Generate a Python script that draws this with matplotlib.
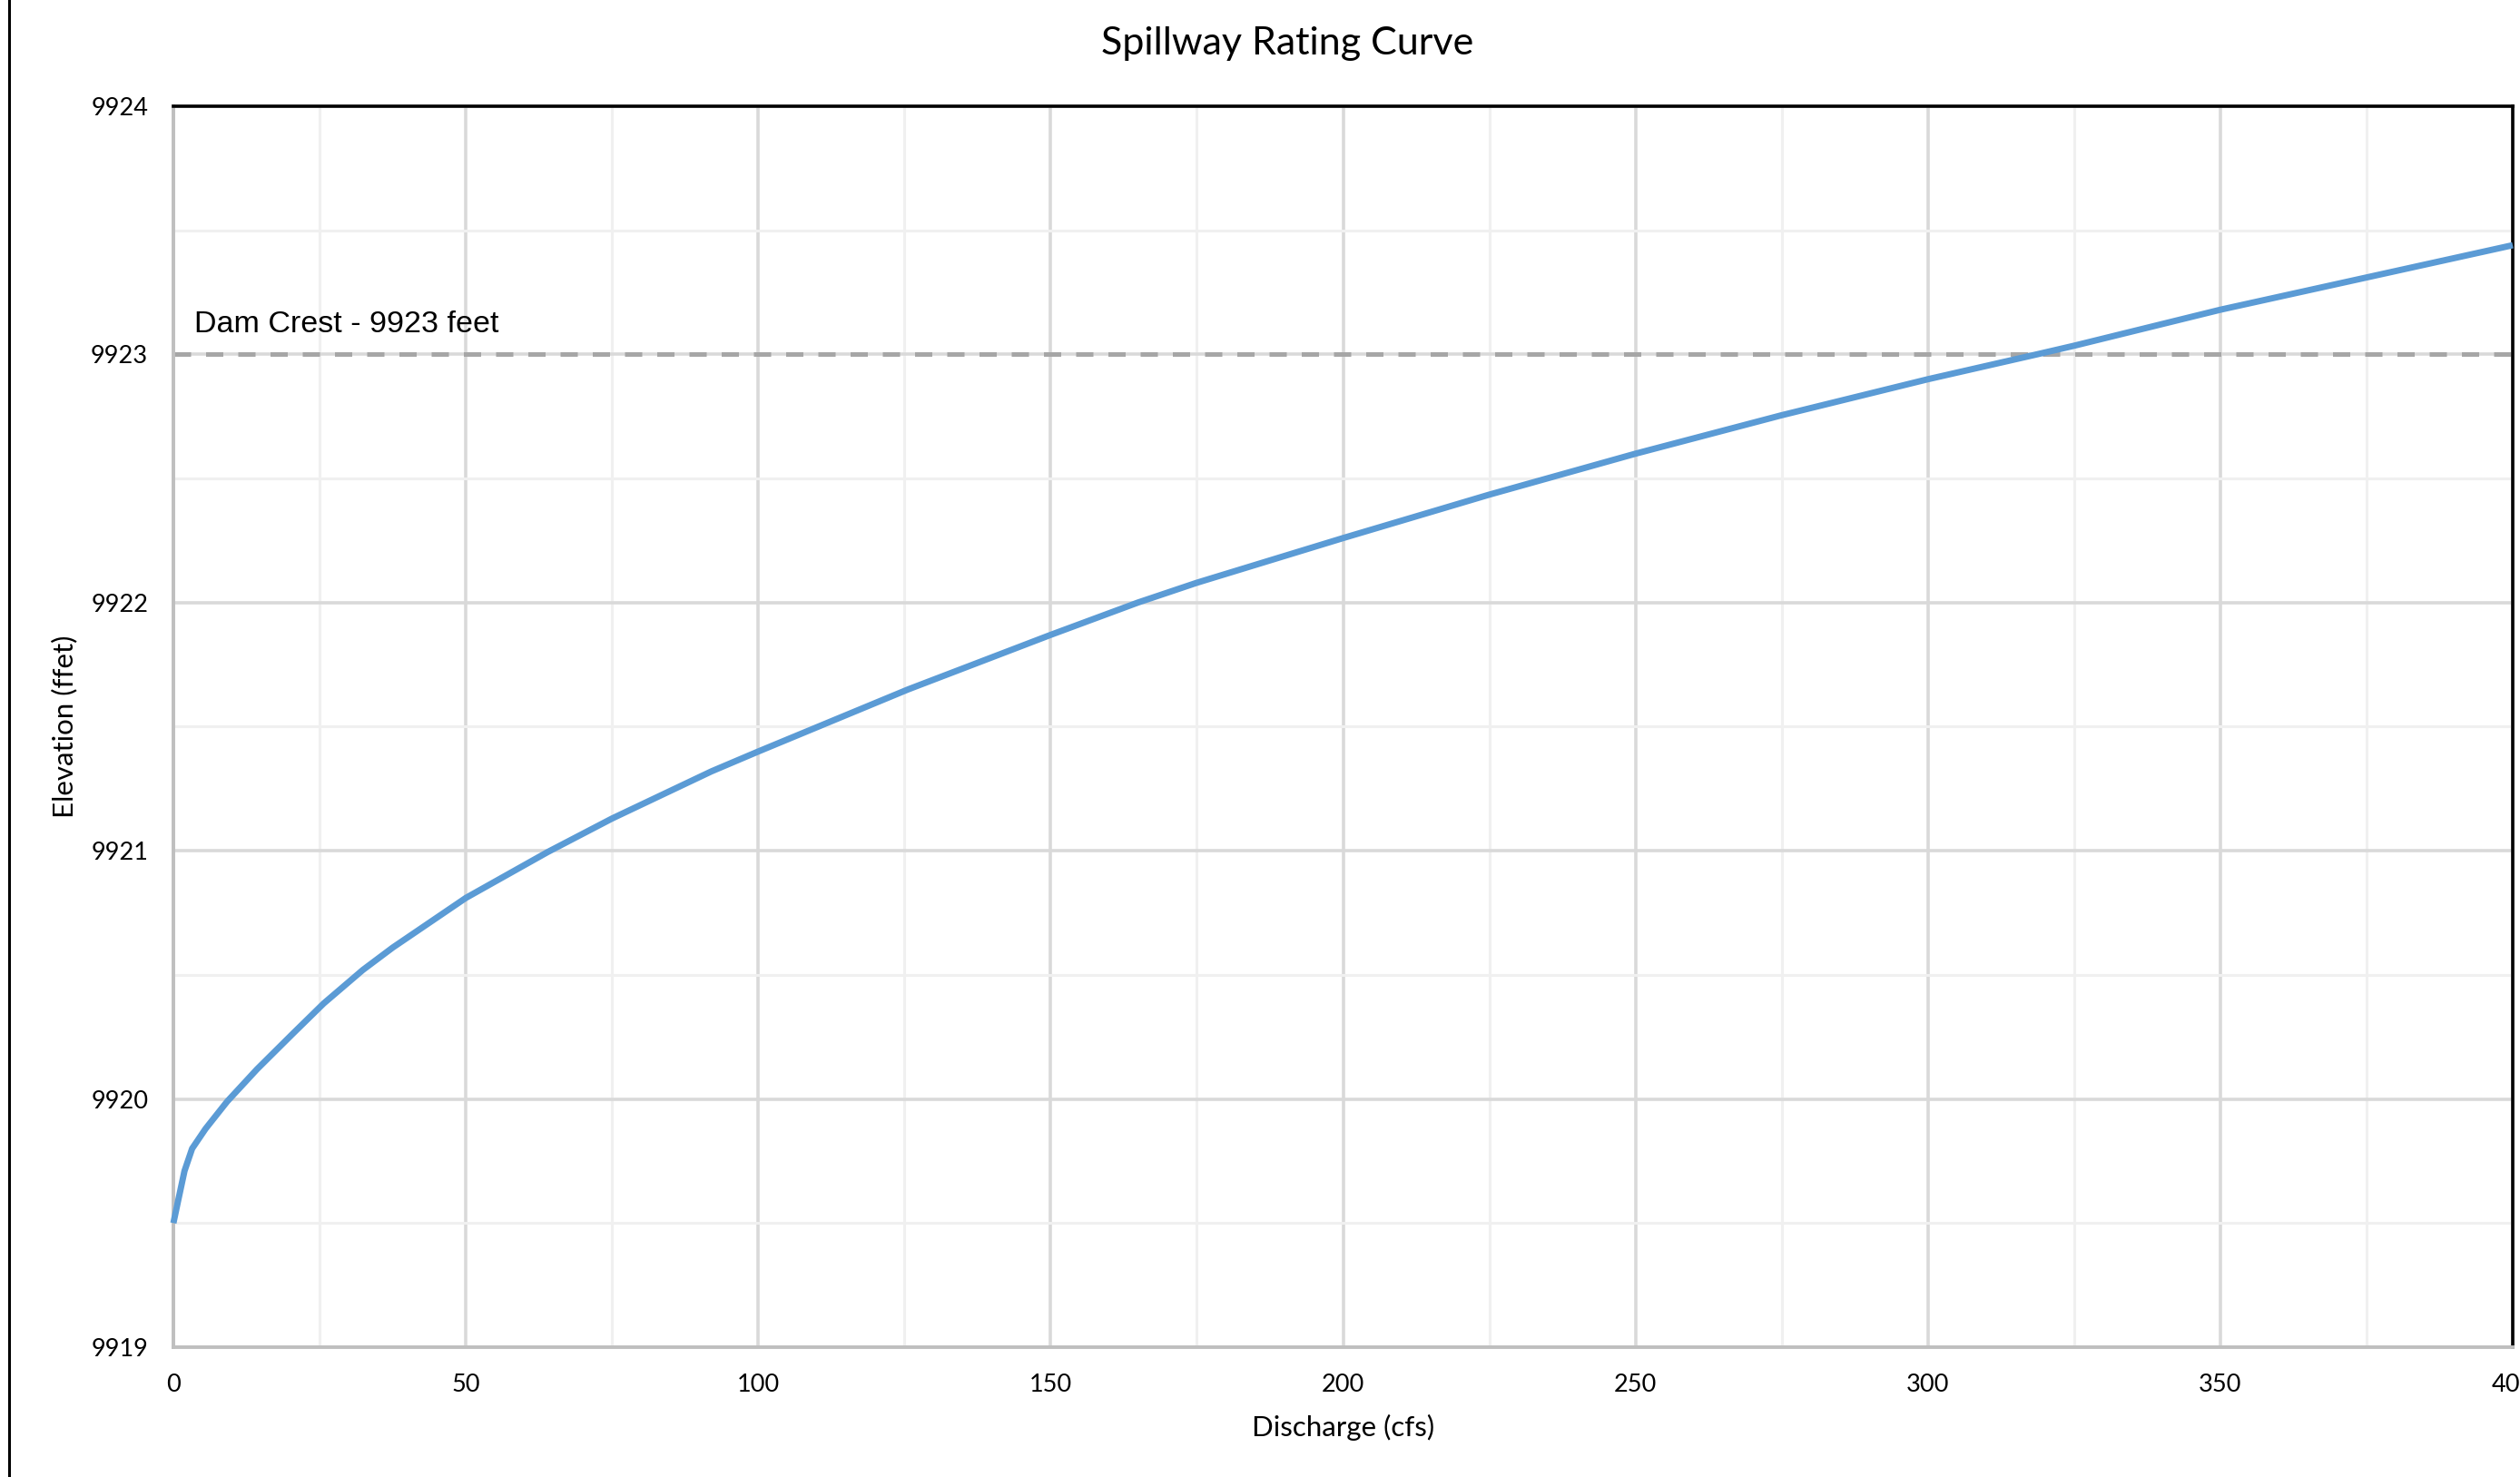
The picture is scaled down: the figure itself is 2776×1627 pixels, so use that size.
# Spillway rating curve - elevation vs discharge
import matplotlib
matplotlib.use("Agg")
from matplotlib import pyplot as plt
from matplotlib.lines import Line2D
from matplotlib.ticker import MultipleLocator

# discharge (cfs) and water surface elevation (feet)
discharge = [0, 0.9, 1.9, 3.2, 5.5, 9.2, 14.3, 20.5, 25.7, 32.4, 37.5, 50,
             64, 75, 92, 100, 125.6, 150, 164.9, 175, 200, 225, 250, 275,
             300, 318.6, 325, 350, 375, 400]
elevation = [9919.50, 9919.60, 9919.71, 9919.80, 9919.88, 9919.99, 9920.12,
             9920.265, 9920.385, 9920.52, 9920.61, 9920.81, 9920.995, 9921.13,
             9921.32, 9921.40, 9921.65, 9921.87, 9922.00, 9922.08, 9922.26,
             9922.435, 9922.60, 9922.755, 9922.90, 9923.00, 9923.035, 9923.18,
             9923.31, 9923.44]
dam_crest = 9923
x_ticks = [0, 50, 100, 150, 200, 250, 300, 350, 400]
y_ticks = [9919, 9920, 9921, 9922, 9923, 9924]

W, H = 2776, 1627
fig = plt.figure(figsize=(W / 100, H / 100), dpi=100)
fig.patch.set_facecolor("white")

ax = fig.add_axes([191 / W, 1 - 1484 / H, (2768 - 191) / W, (1484 - 117) / H])
ax.set_xlim(0, 400)
ax.set_ylim(9919, 9924)

# grid like excel: major + lighter minor lines
ax.set_xticks(x_ticks)
ax.set_yticks(y_ticks)
ax.xaxis.set_minor_locator(MultipleLocator(25))
ax.yaxis.set_minor_locator(MultipleLocator(0.5))
ax.grid(which="major", color="#d9d9d9", lw=2.6, zorder=0)
ax.grid(which="minor", color="#f0f0f0", lw=2.2, zorder=0)
ax.set_axisbelow(True)

for side in ["top", "right"]:
    ax.spines[side].set_color("black")
    ax.spines[side].set_linewidth(2.6)
for side in ["left", "bottom"]:
    ax.spines[side].set_color("#bfbfbf")
    ax.spines[side].set_linewidth(2.8)

ax.tick_params(which="both", length=0)
ax.tick_params(axis="y", pad=20)
ax.tick_params(axis="x", pad=21)
for lab in ax.get_xticklabels() + ax.get_yticklabels():
    lab.set_fontfamily("Lato")
    lab.set_fontsize(19.5)
    lab.set_color("black")

# dam crest line
ax.axhline(dam_crest, color="#a6a6a6", lw=3.6, dashes=(3.8, 3.3),
           dash_capstyle="butt", zorder=2)
ax.text(3.6, dam_crest + 0.09, "Dam Crest - 9923 feet", fontsize=24.5,
        family="Liberation Sans", color="black", va="baseline", ha="left")

# rating curve
ax.plot(discharge, elevation, color="#5b9bd5", lw=5, zorder=3,
        solid_capstyle="butt", solid_joinstyle="round", clip_on=False)

fig.text(1418 / W, 1 - 48 / H, "Spillway Rating Curve", fontsize=31,
         family="Lato", ha="center", va="center")
fig.text(1480 / W, 1 - 1572 / H, "Discharge (cfs)", fontsize=22.5,
         family="Lato", ha="center", va="center")
fig.text(71 / W, 1 - 800 / H, "Elevation (ffet)", fontsize=22.5,
         family="Lato", ha="center", va="center", rotation=90)

# left border of the chart frame
fig.add_artist(Line2D([10 / W, 10 / W], [0, 1], color="black", lw=2.2,
                      transform=fig.transFigure))

fig.savefig("out.png", dpi=100)
